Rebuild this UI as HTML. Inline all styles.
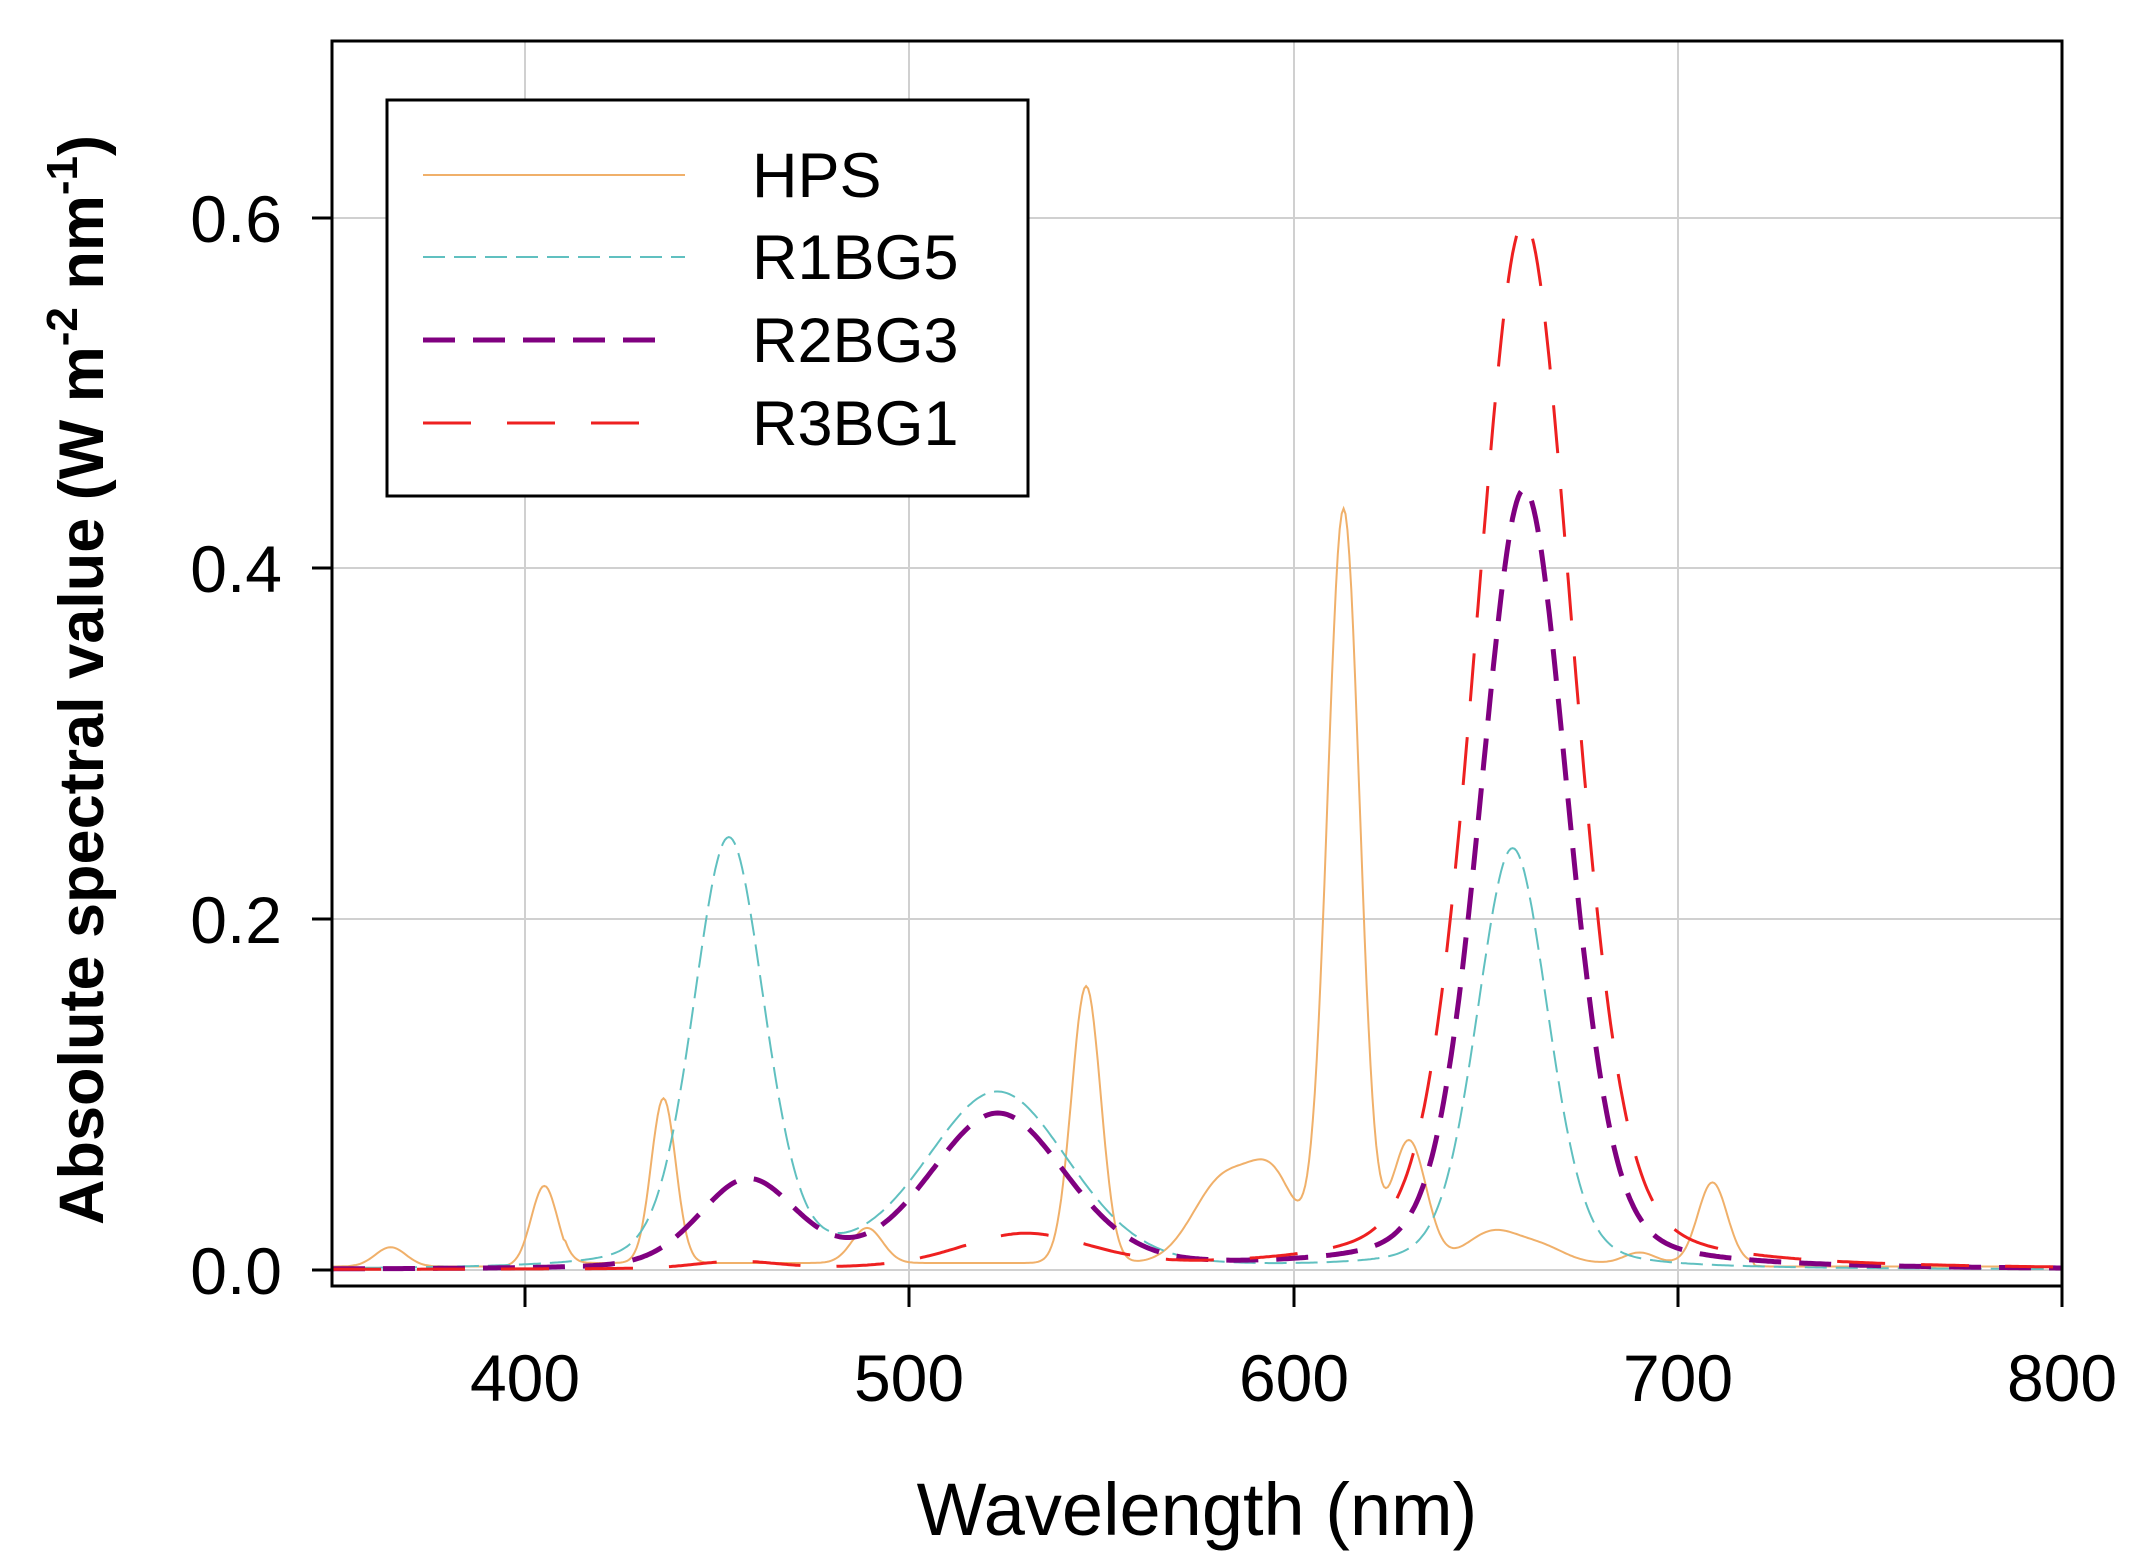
<!DOCTYPE html>
<html><head><meta charset="utf-8"><style>
html,body{margin:0;padding:0;background:#fff;}
svg{display:block;font-family:"Liberation Sans",Arial,sans-serif;}
</style></head><body>
<svg id="s" width="2141" height="1561" viewBox="0 0 2141 1561" xmlns="http://www.w3.org/2000/svg">
<rect width="2141" height="1561" fill="#fff"/>
<g stroke="#d0d0d0" stroke-width="2">
<line x1="525" y1="41" x2="525" y2="1286"/><line x1="909" y1="41" x2="909" y2="1286"/>
<line x1="1294" y1="41" x2="1294" y2="1286"/><line x1="1678" y1="41" x2="1678" y2="1286"/>
<line x1="332" y1="1270" x2="2062" y2="1270"/><line x1="332" y1="919" x2="2062" y2="919"/>
<line x1="332" y1="568" x2="2062" y2="568"/><line x1="332" y1="218" x2="2062" y2="218"/>
</g>
<g id="curves" fill="none"></g>
<rect x="332" y="41" width="1730" height="1245" fill="none" stroke="#000" stroke-width="3"/>
<g stroke="#000" stroke-width="3">
<line x1="312" y1="1270" x2="332" y2="1270"/><line x1="312" y1="919" x2="332" y2="919"/>
<line x1="312" y1="568" x2="332" y2="568"/><line x1="312" y1="218" x2="332" y2="218"/>
<line x1="525" y1="1286" x2="525" y2="1307"/><line x1="909" y1="1286" x2="909" y2="1307"/>
<line x1="1294" y1="1286" x2="1294" y2="1307"/><line x1="1678" y1="1286" x2="1678" y2="1307"/>
<line x1="2062" y1="1286" x2="2062" y2="1307"/>
</g>
<g font-size="66" text-anchor="end" fill="#000">
<text x="282" y="1294">0.0</text><text x="282" y="943">0.2</text>
<text x="282" y="592">0.4</text><text x="282" y="242">0.6</text>
</g>
<g font-size="66" text-anchor="middle" fill="#000">
<text x="525" y="1401">400</text><text x="909" y="1401">500</text>
<text x="1294" y="1401">600</text><text x="1678" y="1401">700</text>
<text x="2062" y="1401">800</text>
</g>
<text x="1197" y="1535" font-size="74" text-anchor="middle">Wavelength (nm)</text>
<text transform="translate(103,680) rotate(-90)" font-size="63" font-weight="bold" text-anchor="middle">Absolute spectral value (W m<tspan dy="-26" font-size="44">-2</tspan><tspan dy="26"> nm</tspan><tspan dy="-26" font-size="44">-1</tspan><tspan dy="26">)</tspan></text>
<rect x="387" y="100" width="641" height="396" fill="#fff" stroke="#000" stroke-width="3"/>
<line x1="423" y1="175" x2="685" y2="175" stroke="#f0b06a" stroke-width="2"/>
<line x1="423" y1="257" x2="685" y2="257" stroke="#60c0c0" stroke-width="2" stroke-dasharray="22,9"/>
<line x1="423" y1="340" x2="673" y2="340" stroke="#800080" stroke-width="5" stroke-dasharray="32,18"/>
<line x1="423" y1="423" x2="663" y2="423" stroke="#ee2020" stroke-width="3" stroke-dasharray="48,36"/>
<g font-size="63"><text x="752" y="197">HPS</text><text x="752" y="279">R1BG5</text><text x="752" y="362">R2BG3</text><text x="752" y="445">R3BG1</text></g>
</svg>
<script>
function X(w){return 333+(w-350)*3.8425;}
function Y(v){return 1270-v*1752.5;}
function pv(w,c,h,f,eta){var d=(w-c)/f;var g=Math.exp(-4*Math.LN2*d*d);var l=1/(1+4*d*d);return h*(eta*l+(1-eta)*g);}
function gs(w,c,h,s){var d=(w-c)/s;return h*Math.exp(-0.5*d*d);}
var series=[
 {col:"#f0b06a",w:2,da:"",f:function(w){
  var b=0.004*(w>410&&w<720?1:0.5);
  return b+gs(w,365,0.011,4)+gs(w,405,0.046,3.4)+gs(w,436,0.094,3.2)+gs(w,489,0.02,4)+gs(w,546,0.158,3.8)
   +gs(w,582,0.048,8)+gs(w,595,0.042,6)+gs(w,613,0.43,4.2)+gs(w,630,0.07,4.5)+gs(w,652,0.018,7)+gs(w,665,0.008,6)+gs(w,690,0.006,4)+gs(w,709,0.046,3.8);}},
 {col:"#60c0c0",w:2,da:"22,9",f:function(w){return pv(w,453,0.245,22,0.25)+pv(w,523,0.1,44,0.2)+pv(w,657,0.24,22,0.25);}},
 {col:"#800080",w:5,da:"32,18",f:function(w){return pv(w,458,0.05,30,0.2)+pv(w,523,0.088,42,0.2)+pv(w,660,0.445,27,0.25);}},
 {col:"#ee2020",w:3,da:"48,36",f:function(w){return pv(w,455,0.004,25,0.2)+pv(w,530,0.019,40,0.2)+pv(w,660,0.598,30,0.25);}}
];
var g=document.getElementById("curves"),ns="http://www.w3.org/2000/svg";
series.forEach(function(s){var d="";for(var w=350;w<=800;w+=0.5){d+=(w==350?"M":"L")+X(w).toFixed(1)+","+Y(s.f(w)).toFixed(1);}
var p=document.createElementNS(ns,"path");p.setAttribute("d",d);p.setAttribute("stroke",s.col);p.setAttribute("stroke-width",s.w);if(s.da)p.setAttribute("stroke-dasharray",s.da);g.appendChild(p);});
</script>
</body></html>
